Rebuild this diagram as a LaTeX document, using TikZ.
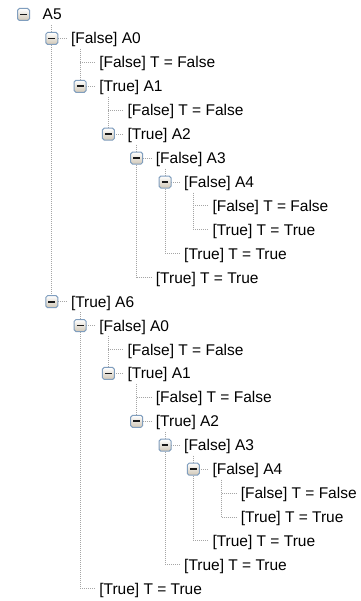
\documentclass[tikz,border=0pt]{standalone}
\usepackage{fontspec}
\setmainfont{Liberation Sans}
\definecolor{linegray}{RGB}{165,165,165}
\definecolor{boxedge}{RGB}{128,158,190}
\definecolor{boxlow}{RGB}{208,199,182}
\definecolor{minuscol}{RGB}{25,25,25}
\tikzset{
  treeline/.style={draw=linegray, line width=1pt, dash pattern=on 1pt off 1pt},
  expbox/.style={draw=boxedge, line width=1pt, rounded corners=1.8pt,
    minimum size=12pt, inner sep=0pt, top color=white, bottom color=boxlow,
    path picture={\draw[minuscol, line width=1.8pt]
      ([xshift=-3.4pt]path picture bounding box.center) --
      ([xshift=3.4pt]path picture bounding box.center);}},
  rowtext/.style={anchor=base west, inner sep=0pt,
    font=\fontsize{15.5}{18}\selectfont, text=black},
}
\begin{document}
\begin{tikzpicture}[x=1pt, y=-1pt]
\useasboundingbox (0,0) rectangle (360,601);
\fill[white] (0,0) rectangle (360,601);
% rows: index / depth / text
\foreach \i/\lv/\txt in {
  1/0/A5,
  2/1/{[False] A0},
  3/2/{[False] T = False},
  4/2/{[True] A1},
  5/3/{[False] T = False},
  6/3/{[True] A2},
  7/4/{[False] A3},
  8/5/{[False] A4},
  9/6/{[False] T = False},
  10/6/{[True] T = True},
  11/5/{[True] T = True},
  12/4/{[True] T = True},
  13/1/{[True] A6},
  14/2/{[False] A0},
  15/3/{[False] T = False},
  16/3/{[True] A1},
  17/4/{[False] T = False},
  18/4/{[True] A2},
  19/5/{[False] A3},
  20/6/{[False] A4},
  21/7/{[False] T = False},
  22/7/{[True] T = True},
  23/6/{[True] T = True},
  24/5/{[True] T = True},
  25/2/{[True] T = True}}{
  \pgfmathsetmacro\yy{14.5+23.93*(\i-1)}
  \pgfmathsetmacro\xx{42.5+28.3*\lv}
  \node[rowtext] (t\i) at (\xx,\yy+5.5) {\txt};
  \coordinate (e\i) at (\xx-19,\yy);
  \coordinate (h\i) at (\xx-4,\yy);
  \coordinate (d\i) at (\xx-19,\yy+10.5);
}
% horizontal branches
\foreach \i in {2,...,25}
  \draw[treeline] (e\i) -- (h\i);
% vertical runs: parent / last child
\foreach \p/\z in {1/13, 2/4, 4/6, 6/12, 7/11, 8/10,
                   13/25, 14/16, 16/18, 18/24, 19/23, 20/22}
  \draw[treeline] (d\p -| e\z) -- (e\z);
% expand/collapse buttons
\foreach \i in {1,2,4,6,7,8,13,14,16,18,19,20}
  \node[expbox] (b\i) at (e\i) {};
\end{tikzpicture}
\end{document}
